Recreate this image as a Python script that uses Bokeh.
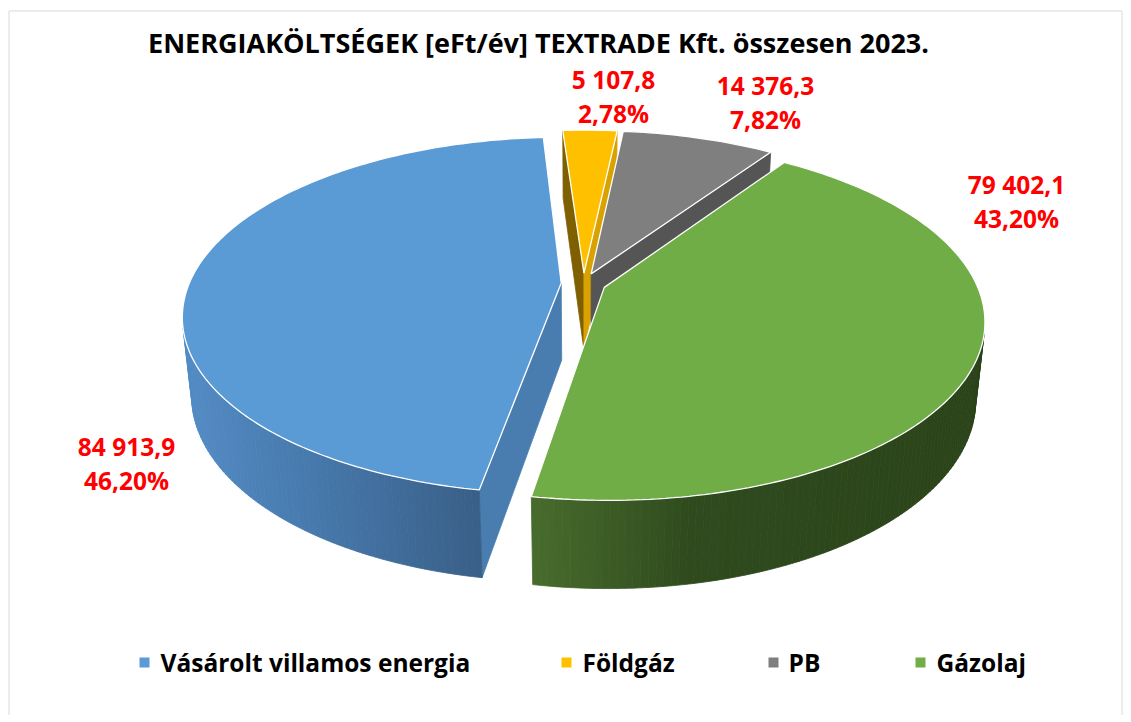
import math
from bokeh.plotting import figure
from bokeh.models import Range1d, ColumnDataSource
from bokeh.core.properties import value
from bokeh.embed import file_html
from bokeh.resources import INLINE

# ---------------- data ----------------
categories = ["Vásárolt villamos energia", "Földgáz", "PB", "Gázolaj"]
costs = [84913.9, 5107.8, 14376.3, 79402.1]
title_text = "ENERGIAKÖLTSÉGEK [eFt/év] TEXTRADE Kft. összesen 2023."

# ---------------- styles ----------------
top_colors = ["#5B9BD5", "#FFC000", "#7F7F7F", "#70AD47"]
side_stops = [
    [(0.0, "#528BC4"), (0.5, "#4576A8"), (1.0, "#395F87")],
    [(0.0, "#BF9000"), (1.0, "#8F6C00")],
    [(0.0, "#666666"), (1.0, "#4D4D4D")],
    [(0.0, "#486C2D"), (0.35, "#2F4B1E"), (1.0, "#2B4319")],
]
cut_colors = [("#4A7DAF", "#4A7DAF"), ("#7F6000", "#D9A200"),
              ("#5A5A5A", "#555555"), ("#3C5C26", "#3C5C26")]
FONT = value("Open Sans")

# ---------------- layout ----------------
W, H = 1124, 715
CX, CY = 583.0, 283.0          # projected pie centre (px)
A_ = 372.0                     # horizontal radius (px)
B_ = 172.6                     # vertical radius (px)
K_ = 0.182                     # perspective factor
PHI = math.asin(B_ / A_)
DIST = math.cos(PHI) / K_
HT = 0.239                     # pie thickness (radius units)
EXPLODE = 0.06
START = 189.8                  # first slice start angle (deg, clockwise from 12 o'clock)
label_anchor = [(126, 446), (613, 79), (765, 85), (1016, 184)]
label_gap = 34
legend_sq_x = [144, 566, 773, 920]
legend_tx_x = [160, 582, 788, 936]
legend_y = 662


def proj(u, y, v):
    yc = v * math.sin(PHI) + y * math.cos(PHI)
    zc = DIST + v * math.cos(PHI) - y * math.sin(PHI)
    return CX + A_ * DIST * u / zc, CY - A_ * DIST * yc / zc, zc


def hex2rgb(c):
    return int(c[1:3], 16), int(c[3:5], 16), int(c[5:7], 16)


def lerp_color(stops, t):
    t = min(max(t, 0.0), 1.0)
    for (t0, c0), (t1, c1) in zip(stops, stops[1:]):
        if t <= t1:
            f = (t - t0) / (t1 - t0) if t1 > t0 else 0.0
            a, b = hex2rgb(c0), hex2rgb(c1)
            return "#%02x%02x%02x" % tuple(int(round(a[k] + (b[k] - a[k]) * f)) for k in range(3))
    return stops[-1][1]


total = sum(costs)
bounds = []
ang = START
for c in costs:
    span = 360.0 * c / total
    bounds.append((ang, ang + span))
    ang += span

cam_u, cam_v = 0.0, -DIST * math.cos(PHI)
side_items, top_items = [], []
for i, (a0, a1) in enumerate(bounds):
    mid = math.radians((a0 + a1) / 2)
    ou, ov = EXPLODE * math.sin(mid), EXPLODE * math.cos(mid)
    n = max(6, int(math.ceil((a1 - a0) / 1.0)))
    ths = [math.radians(a0 + (a1 - a0) * j / n) for j in range(n + 1)]
    tops = [proj(ou + math.sin(t), 0.0, ov + math.cos(t)) for t in ths]
    bots = [proj(ou + math.sin(t), -HT, ov + math.cos(t)) for t in ths]
    at = proj(ou, 0.0, ov)
    ab = proj(ou, -HT, ov)
    # outer curved side
    vis = []
    for j in range(n):
        tm = (ths[j] + ths[j + 1]) / 2
        pu, pv = ou + math.sin(tm), ov + math.cos(tm)
        if (cam_u - pu) * math.sin(tm) + (cam_v - pv) * math.cos(tm) > 0:
            vis.append(j)
    if vis:
        xs_all = [tops[j][0] for j in vis] + [tops[vis[-1] + 1][0]]
        xmin, xmax = min(xs_all), max(xs_all)
        for j in vis:
            xq = [tops[j][0], tops[j + 1][0], bots[j + 1][0], bots[j][0]]
            yq = [tops[j][1], tops[j + 1][1], bots[j + 1][1], bots[j][1]]
            t = ((tops[j][0] + tops[j + 1][0]) / 2 - xmin) / (xmax - xmin) if xmax > xmin else 0.0
            col = lerp_color(side_stops[i], t)
            side_items.append(((tops[j][2] + tops[j + 1][2]) / 2, xq, yq, col, col))
    # radial cut faces
    for kk, thd in enumerate((a0, a1)):
        th = math.radians(thd)
        if kk == 0:
            nu, nv = -math.cos(th), math.sin(th)
        else:
            nu, nv = math.cos(th), -math.sin(th)
        if (cam_u - ou) * nu + (cam_v - ov) * nv > 0:
            rt = proj(ou + math.sin(th), 0.0, ov + math.cos(th))
            rb = proj(ou + math.sin(th), -HT, ov + math.cos(th))
            col = cut_colors[i][kk]
            side_items.append(((at[2] + rt[2]) / 2 + 0.01, [at[0], rt[0], rb[0], ab[0]],
                               [at[1], rt[1], rb[1], ab[1]], col, col))
    top_items.append((at[2], [at[0]] + [p[0] for p in tops], [at[1]] + [p[1] for p in tops],
                      top_colors[i], "white"))

side_items.sort(key=lambda r: -r[0])
top_items.sort(key=lambda r: -r[0])

p = figure(width=W, height=H, x_range=Range1d(0, W), y_range=Range1d(H, 0),
           output_backend="svg", toolbar_location=None, min_border=0,
           x_axis_location=None, y_axis_location=None, outline_line_color=None,
           background_fill_color="white", border_fill_color="white")
p.xgrid.visible = False
p.ygrid.visible = False

# chart frame
p.line(x=[8.5, 8.5, 1121.5, 1121.5], y=[760, 10.5, 10.5, 760], line_color="#D9D9D9", line_width=1)

src_side = ColumnDataSource(dict(xs=[r[1] for r in side_items], ys=[r[2] for r in side_items],
                                 fc=[r[3] for r in side_items], lc=[r[4] for r in side_items]))
p.patches("xs", "ys", source=src_side, fill_color="fc", line_color="lc", line_width=0.8)

src_top = ColumnDataSource(dict(xs=[r[1] for r in top_items], ys=[r[2] for r in top_items],
                                fc=[r[3] for r in top_items], lc=[r[4] for r in top_items]))
p.patches("xs", "ys", source=src_top, fill_color="fc", line_color="lc", line_width=1.3)


def fmt_val(v):
    s = "%.1f" % v
    ip, dp = s.split(".")
    groups = []
    while len(ip) > 3:
        groups.insert(0, ip[-3:])
        ip = ip[:-3]
    groups.insert(0, ip)
    return " ".join(groups) + "," + dp


lab_x, lab_y, lab_t = [], [], []
for i, c in enumerate(costs):
    pct = ("%.2f" % (100.0 * c / total)).replace(".", ",") + "%"
    lab_x += [label_anchor[i][0], label_anchor[i][0]]
    lab_y += [label_anchor[i][1], label_anchor[i][1] + label_gap]
    lab_t += [fmt_val(c), pct]
p.text(x=lab_x, y=lab_y, text=lab_t, text_font=FONT, text_font_style="bold",
       text_font_size="24.5px", text_color="#FF0000", text_align="center", text_baseline="middle")

# title
p.text(x=[538], y=[42], text=[title_text], text_font=FONT, text_font_style="bold",
       text_font_size="27px", text_color="#000000", text_align="center", text_baseline="middle")

# legend
p.rect(x=legend_sq_x, y=[legend_y] * 4, width=10, height=10, width_units="screen",
       height_units="screen", fill_color=top_colors, line_color=None)
p.text(x=legend_tx_x, y=[legend_y] * 4, text=categories, text_font=FONT, text_font_style="bold",
       text_font_size="24.5px", text_color="#000000", text_align="left", text_baseline="middle")

open("out.html", "w").write(file_html(p, INLINE))
